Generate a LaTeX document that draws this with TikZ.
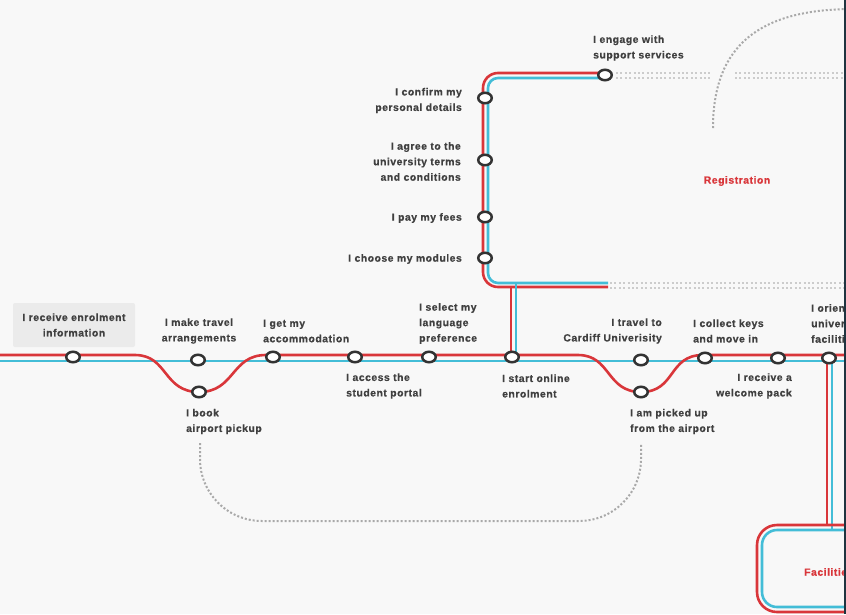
\documentclass[tikz,border=0pt]{standalone}
\usepackage{fontspec}
\newfontfamily\lblfont{Liberation Sans}[LetterSpace=5, FakeBold=0.6]
\usetikzlibrary{shapes.geometric}
\definecolor{bg}{HTML}{F8F8F8}
\definecolor{railred}{HTML}{D9363A}
\definecolor{railblue}{HTML}{43BDD7}
\definecolor{ring}{HTML}{333333}
\definecolor{labelgray}{HTML}{404040}
\definecolor{boxgray}{HTML}{EBEBEB}
\definecolor{dotgray}{HTML}{A9A9A9}
\definecolor{paledot}{HTML}{CCCCCC}
\definecolor{edge}{HTML}{1F3440}
\tikzset{
  redrail/.style={draw=railred, line width=2.6pt},
  bluerail/.style={draw=railblue, line width=2.6pt},
  station/.style={ellipse, draw=ring, line width=2.5pt, fill=white,
    minimum width=13.5pt, minimum height=10.5pt, inner sep=0pt},
  lbl/.style={font=\lblfont\bfseries\fontsize{10.4}{15.5}\selectfont,
    text=labelgray, inner sep=0pt},
  lineheading/.style={font=\lblfont\bfseries\fontsize{10.4}{15.5}\selectfont,
    text=railred, inner sep=0pt},
  walkpath/.style={draw=dotgray, line width=2pt, dash pattern=on 2pt off 2pt},
  futurerail/.style={draw=paledot, line width=2pt, dash pattern=on 2pt off 2.4pt},
}
\begin{document}
\begin{tikzpicture}[x=1pt, y=-1pt]
  \useasboundingbox (0,0) rectangle (846,614);
  \clip (0,0) rectangle (846,614);
  \fill[bg] (0,0) rectangle (846,614);

  % dotted walking links
  \draw[walkpath] (713,128) .. controls (713,45) and (760,10) .. (850,9);
  \draw[walkpath, rounded corners=62] (200,443) -- (200,521) -- (641,521) -- (641,443);

  % lines still to come
  \foreach \yy in {73,78} {
    \draw[futurerail] (616,\yy) -- (711,\yy);
    \draw[futurerail] (735,\yy) -- (848,\yy);
  }
  \foreach \yy in {283,288} {
    \draw[futurerail] (610,\yy) -- (848,\yy);
  }

  % registration loop
  \draw[redrail, rounded corners=15] (608,287) -- (483,287) -- (483,73) -- (605,73);
  \draw[bluerail, rounded corners=10] (608,283) -- (488,283) -- (488,78) -- (605,78);
  \draw[redrail] (511,355) -- (511,287);
  \draw[bluerail] (516,361) -- (516,283);

  % facilities branch and loop
  \draw[redrail] (827,355) -- (827,525);
  \draw[bluerail] (832,361) -- (832,530);
  \draw[redrail, rounded corners=20] (900,525) -- (757,525) -- (757,612) -- (900,612);
  \draw[bluerail, rounded corners=15] (900,530) -- (762,530) -- (762,607) -- (900,607);

  % main line
  \draw[bluerail] (0,361) -- (850,361);
  \draw[redrail] (0,355) -- (135,355)
    .. controls (168,355) and (163,392) .. (199,392)
    .. controls (235,392) and (231,355) .. (266,355)
    -- (578,355)
    .. controls (611,355) and (606,392) .. (641,392)
    .. controls (676,392) and (668,355) .. (703,355)
    -- (850,355);

  % stations
  \node[station] (enrolinfo) at (73,357) {};
  \node[station] (travelarr) at (198,360) {};
  \node[station] (pickupbook) at (199,392) {};
  \node[station] (accom) at (273,357) {};
  \node[station] (portal) at (355,357) {};
  \node[station] (language) at (429,357) {};
  \node[station] (online) at (512,357) {};
  \node[station] (cardiff) at (641,360) {};
  \node[station] (pickedup) at (641,392) {};
  \node[station] (keys) at (705,358) {};
  \node[station] (welcome) at (778,358) {};
  \node[station] (orient) at (829,358) {};
  \node[station] (confirm) at (485,98) {};
  \node[station] (terms) at (485,160) {};
  \node[station] (fees) at (485,217) {};
  \node[station] (modules) at (485,258) {};
  \node[station] (support) at (605,75) {};

  % station labels
  \node[lbl, align=center, fill=boxgray, rounded corners=2pt,
    minimum width=122pt, minimum height=44pt] (tenrol) at (74,325)
    {I receive enrolment\\information};
  \node[lbl, align=center] (ttravel) at (199,331) {I make travel\\arrangements};
  \node[lbl, align=left, anchor=west] (tbook) at (186,421.5) {I book\\airport pickup};
  \node[lbl, align=left, anchor=west] (taccom) at (263,331) {I get my\\accommodation};
  \node[lbl, align=left, anchor=west] (tportal) at (346,386) {I access the\\student portal};
  \node[lbl, align=left, anchor=west] (tlang) at (419,323.5) {I select my\\language\\preference};
  \node[lbl, align=left, anchor=west] (tonline) at (502,386) {I start online\\enrolment};
  \node[lbl, align=right, anchor=east] (tcardiff) at (662,331) {I travel to\\Cardiff Univerisity};
  \node[lbl, align=left, anchor=west] (tpicked) at (630,421.5) {I am picked up\\from the airport};
  \node[lbl, align=left, anchor=west] (tkeys) at (693,331) {I collect keys\\and move in};
  \node[lbl, align=right, anchor=east] (twelcome) at (792,386) {I receive a\\welcome pack};
  \node[lbl, align=left, anchor=west] (torient) at (811,323.5) {I orient myself with\\university\\facilities};
  \node[lbl, align=left, anchor=west] (tsupport) at (593,48) {I engage with\\support services};
  \node[lbl, align=right, anchor=east] (tconfirm) at (462,100.5) {I confirm my\\personal details};
  \node[lbl, align=right, anchor=east] (tterms) at (461,161.5) {I agree to the\\university terms\\and conditions};
  \node[lbl, anchor=east] (tfees) at (462,218) {I pay my fees};
  \node[lbl, anchor=east] (tmodules) at (462,259) {I choose my modules};

  % line names
  \node[lineheading] (registration) at (737,181) {Registration};
  \node[lineheading, anchor=west] (facilities) at (804,572) {Facilities};

  % dark edge on the right
  \fill[edge] (843.5,0) rectangle (846,614);
\end{tikzpicture}
\end{document}
